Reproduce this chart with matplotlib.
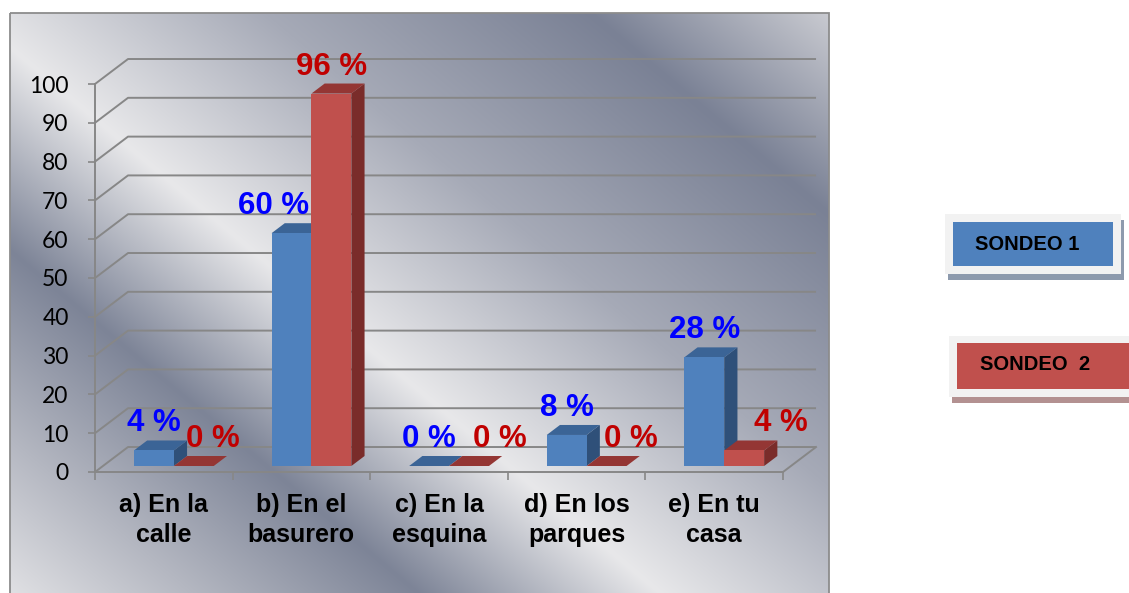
import numpy as np
import matplotlib
matplotlib.use("Agg")
import matplotlib.pyplot as plt
from matplotlib.patches import Polygon, Rectangle

# ---------------- data ----------------
categories = ["a) En la\ncalle", "b) En el\nbasurero", "c) En la\nesquina",
              "d) En los\nparques", "e) En tu\ncasa"]
sondeo1 = [4, 60, 0, 8, 28]
sondeo2 = [0, 96, 0, 0, 4]
series_names = ["SONDEO 1", "SONDEO  2"]
yticks = list(range(0, 101, 10))

# ---------------- layout / style ----------------
W, H = 1129, 593
FONT = "Liberation Sans"
plt.rcParams["font.family"] = [FONT, "DejaVu Sans"]

front_colors = ["#4f81bd", "#c0504d"]
top_colors = ["#3b6496", "#943634"]
side_colors = ["#2f5079", "#7a2c2a"]
label_colors = ["#0000ff", "#c00000"]
label_dx_px = [[0, -18, 0, 0, 0], [19, 0, 31, 24, 37]]   # label nudges (px)
grid_col = "#878787"

DX, DY = 0.24, 6.44        # full depth offset (category units, value units)
D0, DD = 0.24, 0.40        # bar front depth fraction, bar depth fraction
BW = 0.29                  # bar width
X0 = 0.283                 # first bar front-left offset inside category

fig = plt.figure(figsize=(W / 100, H / 100), dpi=100)

# background axes in pixel coordinates
bg = fig.add_axes([0, 0, 1, 1])
bg.set_xlim(0, W)
bg.set_ylim(H, 0)
bg.axis("off")

xx, yy = np.meshgrid(np.arange(W) + 0.5, np.arange(H) + 0.5)
s = -0.643 * xx + 0.766 * yy
stops = [(-560, "#dcdcdf"), (-370, "#7a8195"), (-160, "#a6aab7"),
         (30, "#e8e8ea"), (185, "#7d8497"), (330, "#b4b7c1"), (470, "#e8e8ea")]
sv = [p for p, _ in stops]
rgb = np.array([matplotlib.colors.to_rgb(c) for _, c in stops])
img = np.stack([np.interp(s, sv, rgb[:, k]) for k in range(3)], axis=-1)
box = Rectangle((10, 13), 819, 620, fill=False, ec="#8c8c8c", lw=1.3, zorder=2)
im = bg.imshow(img, extent=(0, W, H, 0), aspect="auto", zorder=0, interpolation="bilinear")
clip = Rectangle((10, 13), 819, 620, transform=bg.transData)
im.set_clip_path(clip)
bg.add_patch(box)

# legend boxes (pixel coords)
leg = [
    dict(frame=(945, 214, 176, 60), inner=(953, 222, 160, 44), shadow="#8d9aad", tx=1027, ty=244),
    dict(frame=(949, 336, 200, 61), inner=(957, 343, 190, 46), shadow="#b39191", tx=1035, ty=365),
]
for k, L in enumerate(leg):
    fx, fy, fw, fh = L["frame"]
    bg.add_patch(Rectangle((fx + 3, fy + 6), fw, fh, fc=L["shadow"], ec="none", zorder=3))
    bg.add_patch(Rectangle((fx, fy), fw, fh, fc="#f2f2f2", ec="none", zorder=4))
    ix, iy, iw, ih = L["inner"]
    bg.add_patch(Rectangle((ix, iy), iw, ih, fc=front_colors[k], ec="none", zorder=5))
    bg.text(L["tx"], L["ty"], series_names[k], ha="center", va="center",
            fontsize=14.5, fontweight="bold", color="black", zorder=6)

# main axes
ax = fig.add_axes([95 / W, (H - 472) / H, 688 / W, 388 / H])
ax.patch.set_alpha(0)
ax.set_xlim(-0.5, 4.5)
ax.set_ylim(0, 100)
for sp in ["top", "right"]:
    ax.spines[sp].set_visible(False)
for sp in ["left", "bottom"]:
    ax.spines[sp].set_color(grid_col)
    ax.spines[sp].set_linewidth(1.4)

n = len(categories)
x_left, x_right = -0.5, n - 0.5
for v in yticks:
    ax.plot([x_left, x_left + DX, x_right + DX], [v, v + DY, v + DY],
            color=grid_col, lw=1.4, clip_on=False, zorder=1, solid_capstyle="butt")
ax.plot([x_right, x_right + DX], [0, DY], color=grid_col, lw=1.4, clip_on=False, zorder=1)

ax.set_yticks(yticks)
ax.set_yticklabels([str(t) for t in yticks], fontfamily="Lato", fontsize=16.5)
ax.tick_params(axis="y", length=5, width=1.2, color=grid_col, pad=14)

ax.set_xticks(np.arange(-0.5, n, 1))
ax.set_xticklabels([])
ax.tick_params(axis="x", which="major", length=6, width=1.2, color=grid_col)
ax.set_xticks(np.arange(n), minor=True)
ax.set_xticklabels(categories, minor=True, fontsize=18, fontweight="bold", linespacing=1.3)
ax.tick_params(axis="x", which="minor", length=0, pad=15)

series = [sondeo1, sondeo2]
y0 = D0 * DY
ddx, ddy = DD * DX, DD * DY
for i in range(n):
    for j, vals in enumerate(series):
        v = vals[i]
        xl = i - 0.5 + X0 + j * BW
        side = Polygon([(xl + BW, y0), (xl + BW + ddx, y0 + ddy),
                        (xl + BW + ddx, y0 + v + ddy), (xl + BW, y0 + v)],
                       closed=True, fc=side_colors[j], ec="none", zorder=3, clip_on=False)
        top = Polygon([(xl, y0 + v), (xl + BW, y0 + v),
                       (xl + BW + ddx, y0 + v + ddy), (xl + ddx, y0 + v + ddy)],
                      closed=True, fc=top_colors[j], ec="none", zorder=3, clip_on=False)
        front = Rectangle((xl, y0), BW, v, fc=front_colors[j], ec="none", zorder=3, clip_on=False)
        ax.add_patch(side)
        ax.add_patch(top)
        ax.add_patch(front)

for i in range(n):
    for j, vals in enumerate(series):
        v = vals[i]
        xl = i - 0.5 + X0 + j * BW
        ax.annotate(f"{v} %", xy=(xl + BW / 2, y0 + v),
                    xytext=(label_dx_px[j][i] * 0.72, 19 * 0.72), textcoords="offset points",
                    ha="center", va="baseline", fontsize=22.5, fontweight="bold",
                    color=label_colors[j], zorder=5, annotation_clip=False)

fig.savefig("out.png", dpi=100)
